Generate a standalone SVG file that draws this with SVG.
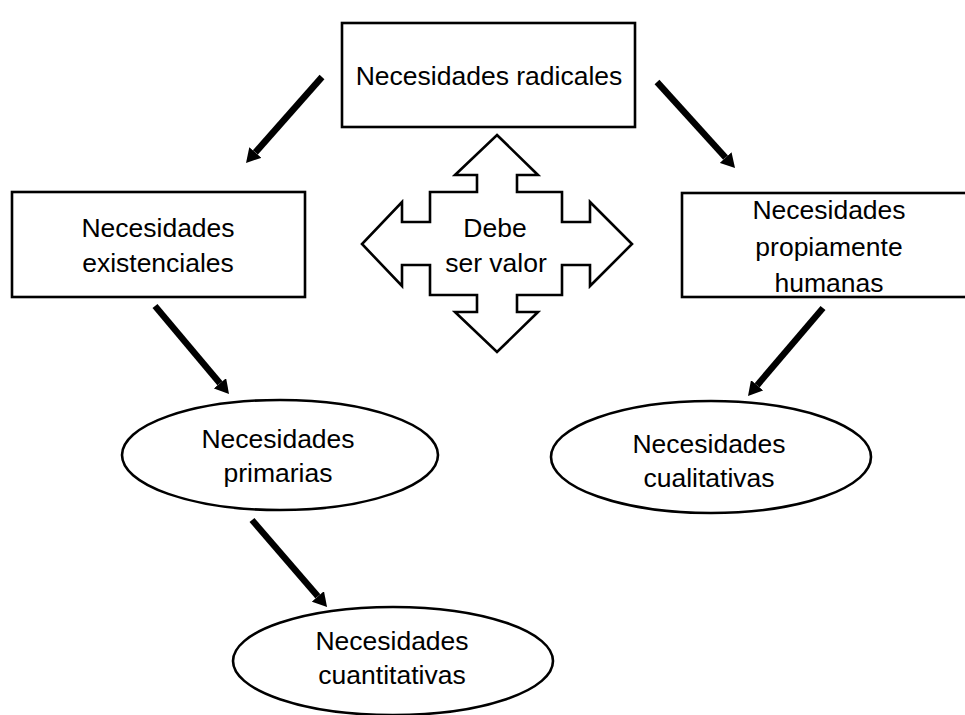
<svg xmlns="http://www.w3.org/2000/svg" width="965" height="715" viewBox="0 0 965 715">
  <defs>
    <style>
      .node { fill: #fff; stroke: #000; stroke-width: 2.6; }
      .lbl { font-family: "Liberation Sans", Arial, sans-serif; font-size: 26.5px; fill: #000; text-anchor: middle; }
      .conn { stroke: #000; stroke-width: 6.5; fill: none; marker-end: url(#head); }
    </style>
    <marker id="head" viewBox="0 0 14 16" refX="0" refY="8" markerWidth="14" markerHeight="16" markerUnits="userSpaceOnUse" orient="auto">
      <path d="M0,0 L14,8 L0,16 z" fill="#000"/>
    </marker>
  </defs>
  <rect width="965" height="715" fill="#fff"/>

  <g id="connectors">
    <line class="conn" x1="322" y1="77" x2="255.3" y2="152.5"/>
    <line class="conn" x1="657" y1="82" x2="725.6" y2="157.6"/>
    <line class="conn" x1="155" y1="306" x2="220" y2="383.3"/>
    <line class="conn" x1="823" y1="308" x2="757.1" y2="385.3"/>
    <line class="conn" x1="252" y1="520" x2="317.9" y2="596.4"/>
  </g>

  <g id="radicales">
    <rect class="node" x="342" y="23" width="293" height="104"/>
    <text class="lbl" x="489" y="85">Necesidades radicales</text>
  </g>

  <g id="existenciales">
    <rect class="node" x="12" y="192" width="293" height="105"/>
    <text class="lbl" x="158" y="237">Necesidades</text>
    <text class="lbl" x="158" y="272">existenciales</text>
  </g>

  <g id="humanas">
    <rect class="node" x="682" y="193" width="300" height="104"/>
    <text class="lbl" x="829" y="219">Necesidades</text>
    <text class="lbl" x="829" y="256">propiamente</text>
    <text class="lbl" x="829" y="292">humanas</text>
  </g>

  <g id="debe-ser-valor">
    <path class="node" d="M497,135 L538,175 L517,175 L517,192 L562,192 L562,222 L590,222 L590,202 L632,244 L590,286 L590,265 L562,265 L562,295 L517,295 L517,312 L538,312 L497,352 L455,312 L477,312 L477,295 L430,295 L430,265 L402,265 L402,286 L362,244 L402,202 L402,222 L430,222 L430,192 L477,192 L477,175 L455,175 Z"/>
    <text class="lbl" x="495" y="237">Debe</text>
    <text class="lbl" x="496" y="272">ser valor</text>
  </g>

  <g id="primarias">
    <ellipse class="node" cx="280" cy="455" rx="158" ry="55"/>
    <text class="lbl" x="278" y="448">Necesidades</text>
    <text class="lbl" x="278" y="482">primarias</text>
  </g>

  <g id="cualitativas">
    <ellipse class="node" cx="711" cy="457" rx="160" ry="56"/>
    <text class="lbl" x="709" y="453">Necesidades</text>
    <text class="lbl" x="709" y="487">cualitativas</text>
  </g>

  <g id="cuantitativas">
    <ellipse class="node" cx="393" cy="661" rx="160" ry="54"/>
    <text class="lbl" x="392" y="650">Necesidades</text>
    <text class="lbl" x="392" y="684">cuantitativas</text>
  </g>
</svg>
